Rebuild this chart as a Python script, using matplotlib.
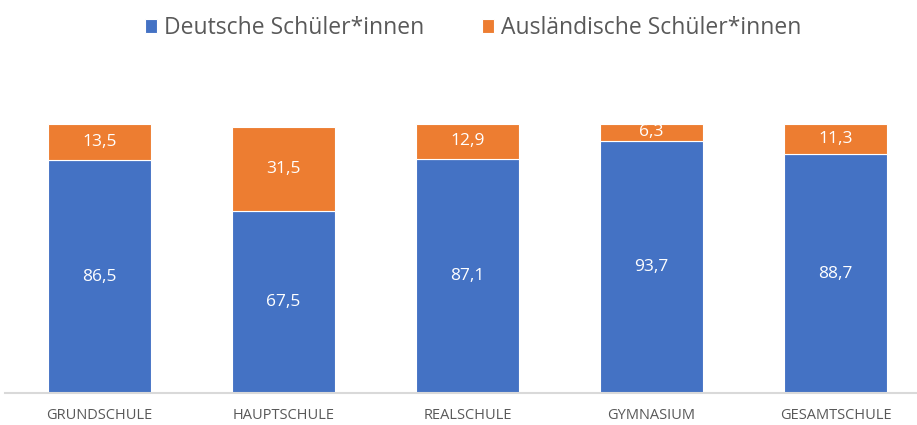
import matplotlib
matplotlib.use("Agg")
import matplotlib.pyplot as plt
import numpy as np

categories = ["GRUNDSCHULE", "HAUPTSCHULE", "REALSCHULE", "GYMNASIUM", "GESAMTSCHULE"]
deutsche = [86.5, 67.5, 87.1, 93.7, 88.7]
auslaendische = [13.5, 31.5, 12.9, 6.3, 11.3]
series_names = ["Deutsche Schüler*innen", "Ausländische Schüler*innen"]

plt.rcParams['font.family'] = ['Open Sans', 'DejaVu Sans']

W, H = 917, 425
fig = plt.figure(figsize=(W/100, H/100), dpi=100)
ax = fig.add_axes([5/W, 1-393/H, 1-5/W, (393-124)/H])

blue = "#4472C4"
orange = "#ED7D31"
x = np.arange(len(categories))
bw = 0.56
b1 = ax.bar(x, deutsche, bw, color=blue, edgecolor="white", linewidth=0.8, label=series_names[0])
b2 = ax.bar(x, auslaendische, bw, bottom=deutsche, color=orange, edgecolor="white", linewidth=0.8, label=series_names[1])

def fmt(v):
    return f"{v:.1f}".replace(".", ",")

for xi, d, a in zip(x, deutsche, auslaendische):
    ax.text(xi, d/2, fmt(d), ha="center", va="center", color="white", fontsize=12.5)
    ax.text(xi, d + a/2, fmt(a), ha="center", va="center", color="white", fontsize=12.5)

ax.set_xlim(-0.514, 4.443)
ax.set_ylim(0, 100)
ax.set_yticks([])
ax.set_xticks(x)
ax.set_xticklabels(categories, color="#595959", fontsize=10.5)
ax.tick_params(axis="x", length=0, pad=11)
for s in ["top", "right", "left"]:
    ax.spines[s].set_visible(False)
ax.spines["bottom"].set_color("#D9D9D9")
ax.spines["bottom"].set_linewidth(1.5)

fig.legend(handles=[b1, b2], labels=series_names, loc="center", bbox_to_anchor=(473/W, 1-28/H),
           ncol=2, frameon=False, fontsize=16.5, labelcolor="#595959",
           handlelength=0.55, handleheight=0.55, handletextpad=0.3, columnspacing=2.5)

fig.savefig("out.png", dpi=100)
